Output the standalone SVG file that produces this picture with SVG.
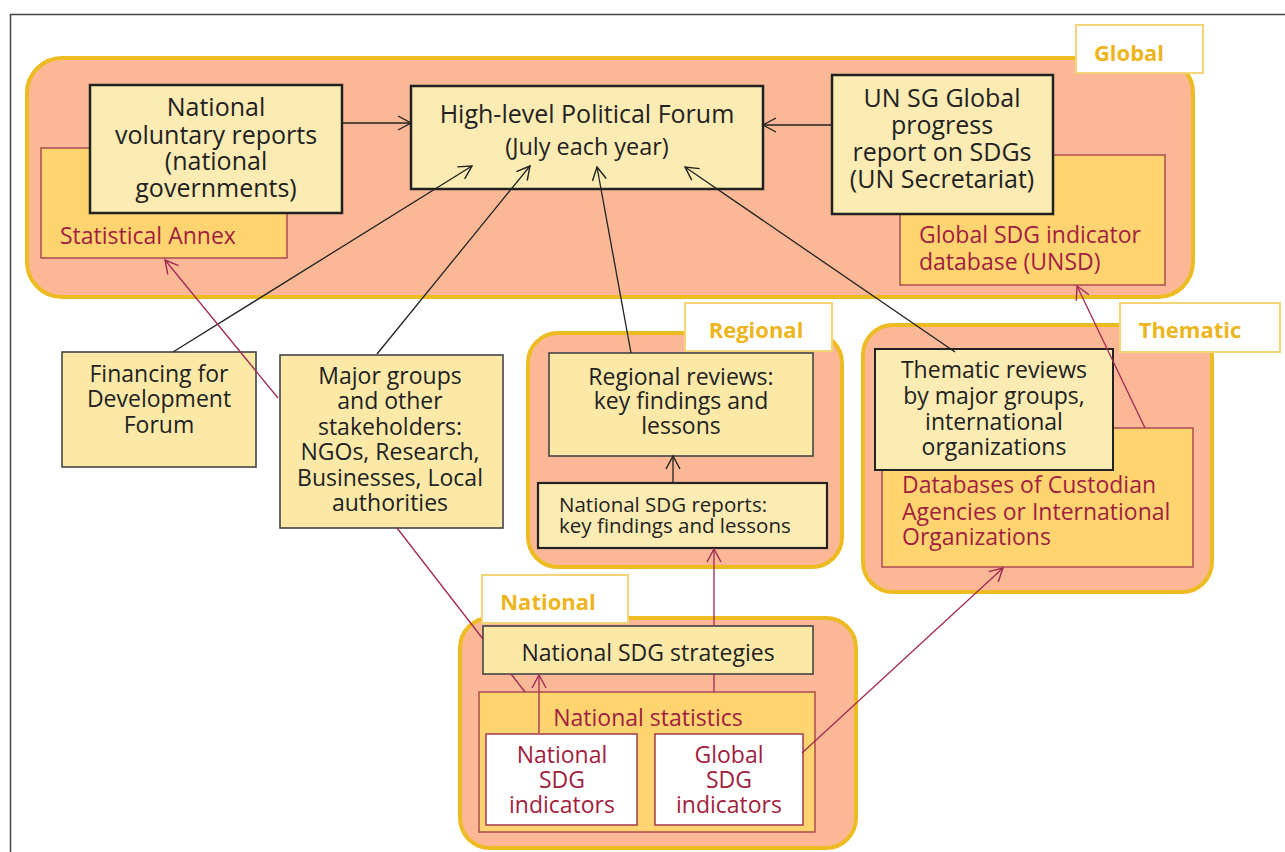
<svg xmlns="http://www.w3.org/2000/svg" width="1285" height="852" viewBox="0 0 1285 852">
<style>
.cont{fill:#FAB896;stroke:#EDBB22;stroke-width:4}
.lbl{fill:#FFFFFF;stroke:#F3D577;stroke-width:2}
.lblt{font-family:"Open Sans","Liberation Sans",sans-serif;font-weight:bold;font-size:22px;fill:#EDB520;text-anchor:middle}
.box{fill:#FCEBB2;stroke:#222;stroke-width:2.5}
.box2{fill:#FCE9A8;stroke:#444;stroke-width:1.6}
.gold{fill:#FDD470;stroke:#A33A4A;stroke-width:1.3}
.wht{fill:#FFFFFF;stroke:#A33A4A;stroke-width:1.5}
.t{font-family:"Open Sans","Liberation Sans",sans-serif;font-size:23px;fill:#222;text-anchor:middle}
.tb{font-size:25px}
.tl{font-family:"Open Sans","Liberation Sans",sans-serif;font-size:20.5px;fill:#222}
.r{font-family:"Open Sans","Liberation Sans",sans-serif;font-size:23px;fill:#A21E40}
.rc{font-family:"Open Sans","Liberation Sans",sans-serif;font-size:23px;fill:#A21E40;text-anchor:middle}
.kb{fill:none;stroke:#222;stroke-width:1.3}
.kr{fill:none;stroke:#A22A52;stroke-width:1.3}
</style>
<defs>
<marker id="ab" markerUnits="userSpaceOnUse" markerWidth="18" markerHeight="18" refX="14" refY="8" orient="auto" viewBox="0 0 18 18">
<path d="M1,1 L14,8 L1,15" fill="none" stroke="#222" stroke-width="1.4"/>
</marker>
<marker id="ar" markerUnits="userSpaceOnUse" markerWidth="18" markerHeight="18" refX="14" refY="8" orient="auto" viewBox="0 0 18 18">
<path d="M1,1 L14,8 L1,15" fill="none" stroke="#A22A52" stroke-width="1.4"/>
</marker>
</defs>
<rect width="1285" height="852" fill="#FFFFFF"/>
<path d="M10.5,852 V14.5 H1285" fill="none" stroke="#444" stroke-width="1.5"/>

<g id="global-level">
<rect class="cont" x="27" y="58" width="1166" height="239" rx="35"/>
<rect class="lbl" x="1076" y="25" width="127" height="48"/>
<text class="lblt" x="1129" y="61">Global</text>
</g>
<g id="regional-level">
<rect class="cont" x="528" y="333" width="314" height="234" rx="30"/>
<rect class="lbl" x="685" y="303" width="147" height="48"/>
<text class="lblt" x="756" y="338">Regional</text>
</g>
<g id="thematic-level">
<rect class="cont" x="863" y="325" width="349" height="267" rx="30"/>
<rect class="lbl" x="1120" y="303" width="160" height="49"/>
<text class="lblt" x="1190" y="338">Thematic</text>
</g>
<g id="national-level">
<rect class="cont" x="460" y="618" width="396" height="230" rx="30"/>
<rect class="lbl" x="482" y="575" width="146" height="48"/>
<text class="lblt" x="548" y="610">National</text>
</g>

<g id="statistical-annex">
<rect class="gold" x="41" y="148" width="246" height="110"/>
<text class="r" x="60" y="244">Statistical Annex</text>
</g>
<g id="national-voluntary-reports">
<rect class="box" x="90" y="85" width="252" height="128"/>
<text class="t tb" x="216" y="116">National</text>
<text class="t tb" x="216" y="144">voluntary reports</text>
<text class="t tb" x="216" y="170">(national</text>
<text class="t tb" x="216" y="197">governments)</text>
</g>
<g id="hlpf">
<rect class="box" x="411" y="86" width="352" height="103"/>
<text class="t tb" x="587" y="123">High-level Political Forum</text>
<text class="t" x="587" y="155" style="font-size:23.4px">(July each year)</text>
</g>
<g id="global-sdg-database">
<rect class="gold" x="900" y="155" width="265" height="130"/>
<text class="r" x="919" y="243">Global SDG indicator</text>
<text class="r" x="919" y="270">database (UNSD)</text>
</g>
<g id="un-sg-report">
<rect class="box" x="832" y="75" width="221" height="139"/>
<text class="t tb" x="942" y="107">UN SG Global</text>
<text class="t tb" x="942" y="134">progress</text>
<text class="t tb" x="942" y="161">report on SDGs</text>
<text class="t tb" x="942" y="188">(UN Secretariat)</text>
</g>
<g id="financing-forum">
<rect class="box2" x="62" y="352" width="194" height="115"/>
<text class="t" x="159" y="382">Financing for</text>
<text class="t" x="159" y="407">Development</text>
<text class="t" x="159" y="433">Forum</text>
</g>
<g id="major-groups">
<rect class="box2" x="280" y="355" width="223" height="173"/>
<text class="t" x="390" y="384">Major groups</text>
<text class="t" x="390" y="409">and other</text>
<text class="t" x="390" y="435">stakeholders:</text>
<text class="t" x="390" y="460">NGOs, Research,</text>
<text class="t" x="390" y="486">Businesses, Local</text>
<text class="t" x="390" y="511">authorities</text>
</g>
<g id="regional-reviews">
<rect class="box2" x="549" y="353" width="264" height="103"/>
<text class="t" x="681" y="385">Regional reviews:</text>
<text class="t" x="681" y="409">key findings and</text>
<text class="t" x="681" y="434">lessons</text>
</g>
<g id="national-sdg-reports">
<rect class="box" x="538" y="483" width="289" height="65" style="stroke-width:2.2"/>
<text class="tl" x="559" y="512">National SDG reports:</text>
<text class="tl" x="559" y="533">key findings and lessons</text>
</g>
<g id="databases-custodian">
<rect class="gold" x="882" y="428" width="311" height="139"/>
<text class="r" x="902" y="493">Databases of Custodian</text>
<text class="r" x="902" y="520">Agencies or International</text>
<text class="r" x="902" y="545">Organizations</text>
</g>
<g id="thematic-reviews">
<rect class="box" x="875" y="349" width="238" height="121" style="stroke-width:2"/>
<text class="t" x="994" y="378">Thematic reviews</text>
<text class="t" x="994" y="404">by major groups,</text>
<text class="t" x="994" y="430">international</text>
<text class="t" x="994" y="455">organizations</text>
</g>
<g id="national-statistics">
<rect class="gold" x="479" y="692" width="336" height="140"/>
<text class="rc" x="648" y="726">National statistics</text>
</g>
<g id="national-sdg-strategies">
<rect class="box2" x="483" y="626" width="330" height="48"/>
<text class="t" x="648" y="661">National SDG strategies</text>
</g>
<g id="national-sdg-indicators">
<rect class="wht" x="486" y="734" width="151" height="91"/>
<text class="rc" x="562" y="763">National</text>
<text class="rc" x="562" y="788">SDG</text>
<text class="rc" x="562" y="813">indicators</text>
</g>
<g id="global-sdg-indicators">
<rect class="wht" x="655" y="734" width="148" height="91"/>
<text class="rc" x="729" y="763">Global</text>
<text class="rc" x="729" y="788">SDG</text>
<text class="rc" x="729" y="813">indicators</text>
</g>

<g id="connectors">
<line class="kb" x1="342" y1="123" x2="411" y2="123" marker-end="url(#ab)"/>
<line class="kb" x1="832" y1="125" x2="763" y2="125" marker-end="url(#ab)"/>
<line class="kb" x1="173" y1="352" x2="472" y2="166" marker-end="url(#ab)"/>
<line class="kb" x1="377" y1="354" x2="530" y2="166" marker-end="url(#ab)"/>
<line class="kb" x1="631" y1="353" x2="597" y2="167" marker-end="url(#ab)"/>
<line class="kb" x1="955" y1="352" x2="685" y2="167" marker-end="url(#ab)"/>
<line class="kb" x1="673" y1="483" x2="673" y2="456" marker-end="url(#ab)"/>
<line class="kr" x1="278" y1="398" x2="165" y2="260" marker-end="url(#ar)"/>
<line class="kr" x1="397" y1="528" x2="483" y2="639"/>
<line class="kr" x1="511" y1="674" x2="525" y2="692"/>
<line class="kr" x1="714" y1="692" x2="714" y2="674"/>
<line class="kr" x1="714" y1="626" x2="714" y2="549" marker-end="url(#ar)"/>
<line class="kr" x1="539" y1="733" x2="539" y2="675" marker-end="url(#ar)"/>
<line class="kr" x1="802" y1="753" x2="1003" y2="568" marker-end="url(#ar)"/>
<line class="kr" x1="1145" y1="428" x2="1077" y2="286" marker-end="url(#ar)"/>
</g>
</svg>
